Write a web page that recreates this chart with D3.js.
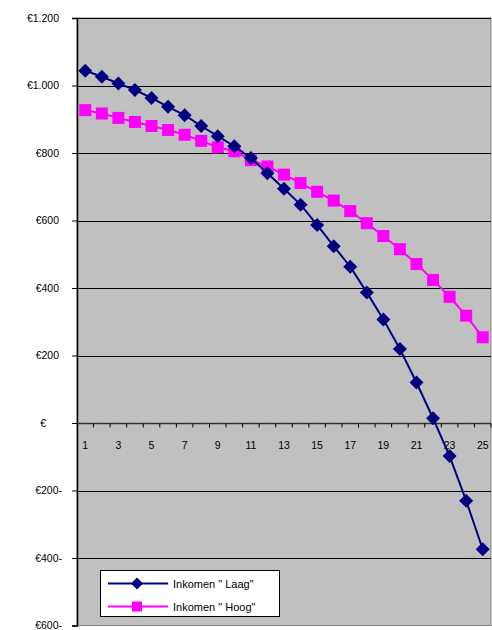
<!DOCTYPE html>
<html><head><meta charset="utf-8">
<script src="https://cdn.jsdelivr.net/npm/d3@7"></script>
<style>body{margin:0;background:#fff}svg{display:block}</style>
</head><body>
<svg id="c" width="492" height="630"></svg>
<script>
const categories = d3.range(1, 26);
const laag = [1044,1026,1006,987,963,937,912,880,850,820,785,740,694,647,587,524,463,387,307,219,120,14,-98,-230,-374];
const hoog = [927,917,904,892,880,868,854,836,817,805,779,760,736,711,685,659,628,592,554,515,471,424,374,318,254];
const yTicks = [1200,1000,800,600,400,200,0,-200,-400,-600];
const xLabels = [1,3,5,7,9,11,13,15,17,19,21,23,25];
const seriesNames = ['Inkomen " Laag"', 'Inkomen " Hoog"'];

const svg = d3.select("#c");
const L = 77, R = 491, T = 18, B = 625.5;
const x = d3.scaleBand().domain(categories).range([L, R]).padding(0);
const y = d3.scaleLinear().domain([-600, 1200]).range([B, T]);

svg.append("rect").attr("x", L).attr("y", T).attr("width", R - L).attr("height", B - T)
  .attr("fill", "#c0c0c0").attr("stroke", "#808080").attr("stroke-width", 1);

// gridlines
svg.append("g").selectAll("line").data(yTicks.filter(d => d !== 0 && d !== -600)).join("line")
  .attr("x1", L).attr("x2", R).attr("y1", d => Math.round(y(d)) + 0.5).attr("y2", d => Math.round(y(d)) + 0.5)
  .attr("stroke", "#000").attr("stroke-width", 1);

// y axis
const fmt = d => {
  if (d === 0) return "€";
  const a = Math.abs(d);
  const s = a >= 1000 ? Math.floor(a / 1000) + "." + String(a % 1000).padStart(3, "0") : String(a);
  return "€" + s + (d < 0 ? "-" : "");
};
const yAxis = svg.append("g").attr("transform", `translate(${L},0)`)
  .call(d3.axisLeft(y).tickValues(yTicks).tickSize(5).tickPadding(11).tickFormat(fmt));
yAxis.select(".domain").attr("stroke", "#000").attr("stroke-width", 1.5);
yAxis.selectAll(".tick line").attr("stroke", "#000");
yAxis.selectAll(".tick text").attr("font-family", "Liberation Sans, Arial, sans-serif").attr("font-size", 10.5).attr("fill", "#000")
  .attr("dx", d => d === 0 ? -15 : (d < 0 ? 1 : -2));

// zero axis with ticks
const y0 = Math.round(y(0)) + 0.5;
svg.append("line").attr("x1", L).attr("x2", R).attr("y1", y0).attr("y2", y0).attr("stroke", "#333").attr("stroke-width", 1.5);
svg.append("g").selectAll("line").data(categories.slice(1).concat(["end"])).join("line")
  .attr("x1", d => d === "end" ? R : x(d)).attr("x2", d => d === "end" ? R : x(d))
  .attr("y1", y0).attr("y2", y0 + 4).attr("stroke", "#000");
svg.append("g").selectAll("text").data(xLabels).join("text")
  .attr("x", d => x(d) + x.bandwidth() / 2).attr("y", y0 + 25)
  .attr("text-anchor", "middle").attr("font-family", "Liberation Sans, Arial, sans-serif")
  .attr("font-size", 10.5).text(d => d);

// series
const line = d3.line().x((d, i) => x(categories[i]) + x.bandwidth() / 2).y(d => y(d));
const cx = i => x(categories[i]) + x.bandwidth() / 2;
svg.append("path").datum(hoog).attr("d", line).attr("fill", "none").attr("stroke", "#ff00ff").attr("stroke-width", 2);
svg.append("g").selectAll("rect").data(hoog).join("rect")
  .attr("x", (d, i) => cx(i) - 6).attr("y", d => y(d) - 6).attr("width", 12).attr("height", 12).attr("fill", "#ff00ff");
svg.append("path").datum(laag).attr("d", line).attr("fill", "none").attr("stroke", "#000080").attr("stroke-width", 2);
const diamond = (px, py, r) => `M${px},${py - r}L${px + r},${py}L${px},${py + r}L${px - r},${py}Z`;
svg.append("g").selectAll("path").data(laag).join("path")
  .attr("d", (d, i) => diamond(cx(i), y(d), 7)).attr("fill", "#000080");

// legend
const lg = svg.append("g");
lg.append("rect").attr("x", 100.5).attr("y", 570.5).attr("width", 179).attr("height", 46).attr("fill", "#fff").attr("stroke", "#000");
[[laag, "#000080", 583.5], [hoog, "#ff00ff", 606.5]].forEach(([s, c, ly], k) => {
  lg.append("line").attr("x1", 108).attr("x2", 168).attr("y1", ly).attr("y2", ly).attr("stroke", c).attr("stroke-width", 2);
  if (k === 0) lg.append("path").attr("d", diamond(137, ly, 6)).attr("fill", c);
  else lg.append("rect").attr("x", 132).attr("y", ly - 5).attr("width", 10).attr("height", 10).attr("fill", c);
  lg.append("text").attr("x", 173).attr("y", ly + 4).attr("font-family", "Liberation Sans, Arial, sans-serif")
    .attr("font-size", 11).text(seriesNames[k]);
});
</script>
</body></html>
